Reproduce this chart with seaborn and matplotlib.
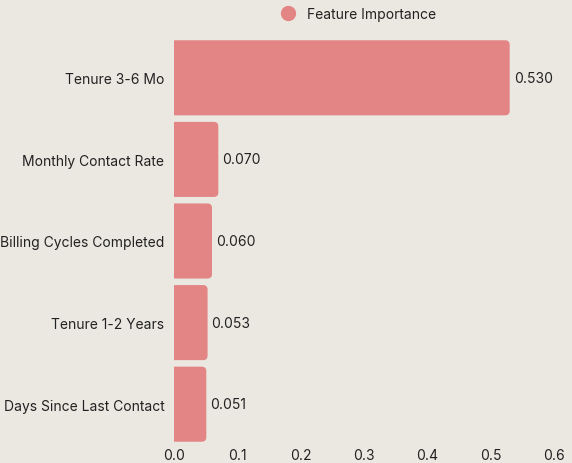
import matplotlib
matplotlib.use("Agg")
import matplotlib.pyplot as plt
from matplotlib.patches import FancyBboxPatch
from matplotlib.lines import Line2D
import seaborn as sns
import pandas as pd

# Data
features = ["Tenure 3-6 Mo", "Monthly Contact Rate", "Billing Cycles Completed",
            "Tenure 1-2 Years", "Days Since Last Contact"]
importance = [0.530, 0.070, 0.060, 0.053, 0.051]

bg = "#EBE8E1"
bar_color = "#E38585"
text_color = "#222222"

sns.set_theme(style="white")
plt.rcParams["font.family"] = ["Inter", "DejaVu Sans"]

df = pd.DataFrame({"feature": features, "importance": importance})

fig = plt.figure(figsize=(5.72, 4.64), dpi=100, facecolor=bg)
ax = fig.add_axes([174 / 572, 18 / 464, 380 / 572, 408 / 464])
ax.set_facecolor(bg)

sns.barplot(data=df, x="importance", y="feature", color=bar_color,
            width=0.92, saturation=1, ax=ax)

# swap plain bars for rounded ones (left edge hidden behind axis)
px_x = 380 / 0.6
px_y = 408 / 5
r = 4.5
for p in list(ax.patches):
    x0, y0 = p.get_x(), p.get_y()
    w, h = p.get_width(), p.get_height()
    rb = FancyBboxPatch((x0 - 0.01, y0), w + 0.01, h,
                        boxstyle=f"round,pad=0,rounding_size={r / px_x}",
                        mutation_aspect=px_x / px_y,
                        facecolor=bar_color, edgecolor="none")
    p.set_visible(False)
    ax.add_patch(rb)
    ax.text(x0 + w + 4 / px_x, y0 + h / 2, f"{w:.3f}", va="center", ha="left",
            fontsize=10, color=text_color)

ax.set_xlim(0, 0.6)
ax.set_ylim(4.5, -0.5)
ax.set_xticks([0.0, 0.1, 0.2, 0.3, 0.4, 0.5, 0.6])
ax.set_xticklabels(["0.0", "0.1", "0.2", "0.3", "0.4", "0.5", "0.6"])
ax.set_xlabel("")
ax.set_ylabel("")
ax.tick_params(axis="both", length=0, labelsize=10, colors=text_color)
ax.tick_params(axis="x", pad=2)
ax.tick_params(axis="y", pad=7)
for s in ax.spines.values():
    s.set_visible(False)

handle = Line2D([], [], marker="o", linestyle="none", markersize=10,
                markerfacecolor=bar_color, markeredgecolor=bar_color)
fig.legend([handle], ["Feature Importance"], loc="center",
           bbox_to_anchor=(355 / 572, 1 - 15 / 464), frameon=False,
           fontsize=10, handletextpad=0.4, labelcolor=text_color)

fig.savefig("out.png", dpi=100, facecolor=bg)
